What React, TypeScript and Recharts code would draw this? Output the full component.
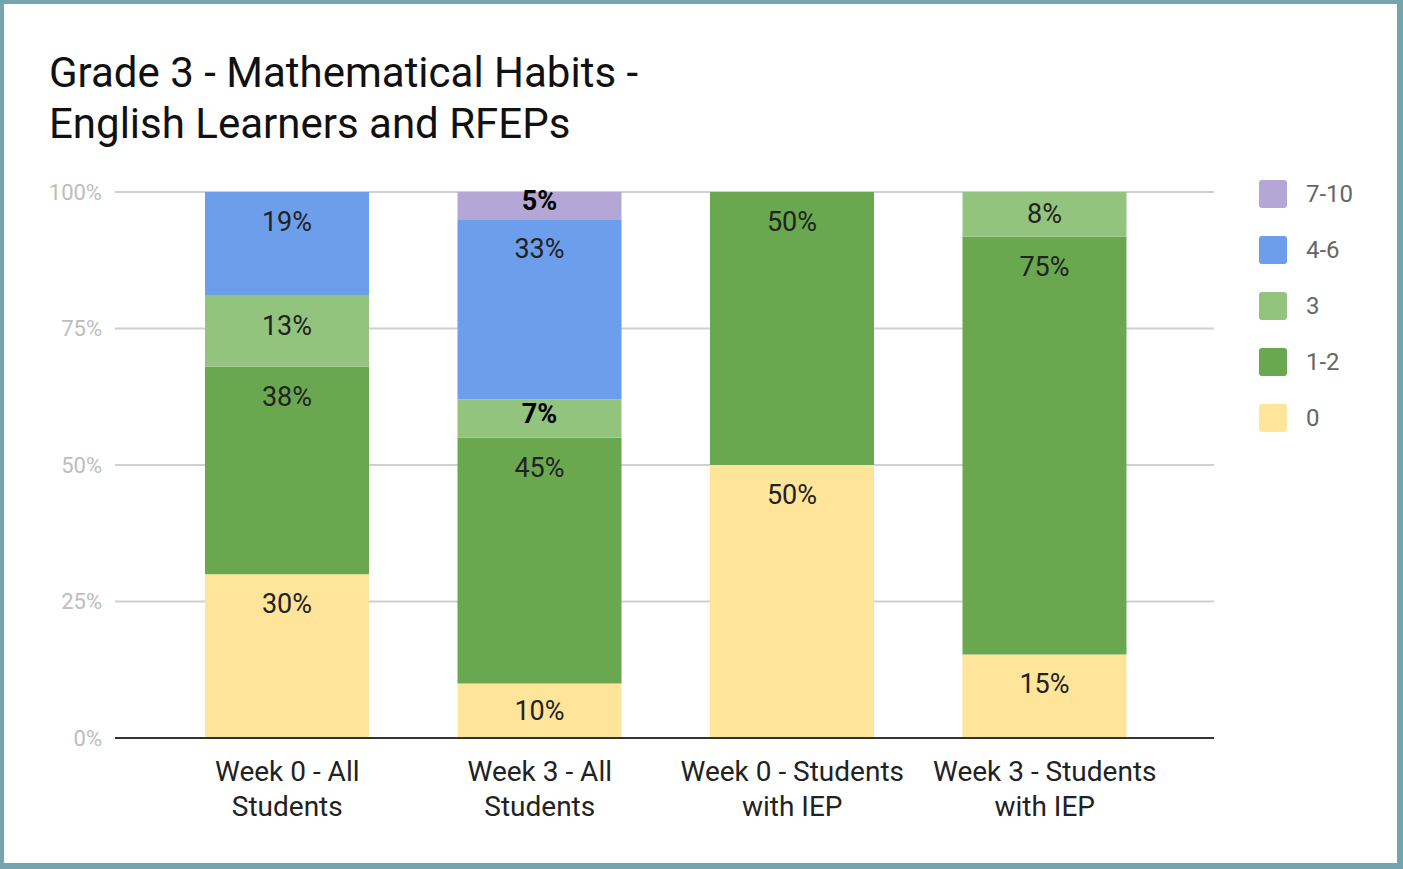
import React from "react";
import { BarChart, Bar, XAxis, YAxis, CartesianGrid, LabelList } from "recharts";

const categories = [
  "Week 0 - All Students",
  "Week 3 - All Students",
  "Week 0 - Students with IEP",
  "Week 3 - Students with IEP",
];
const score0 = [30, 10, 50, 15];
const score12 = [38, 45, 50, 75];
const score3 = [13, 7, null, 8];
const score46 = [19, 33, null, null];
const score710 = [null, 5, null, null];
const seriesNames = ["0", "1-2", "3", "4-6", "7-10"];
const seriesColors = ["#ffe599", "#6aa84f", "#93c47d", "#6d9eeb", "#b4a7d6"];
const yTicks = [0, 0.25, 0.5, 0.75, 1];

const seriesValues = [score0, score12, score3, score46, score710];

const data = categories.map((c, i) => {
  const row: any = { name: c };
  seriesNames.forEach((s, k) => {
    row[s] = seriesValues[k][i];
  });
  return row;
});

const FONT = "Roboto, 'Noto Sans', sans-serif";
const CAT_FONT_SIZE = 28;

let measureCtx: CanvasRenderingContext2D | null = null;
const measure = (s: string) => {
  if (!measureCtx) {
    const c = document.createElement("canvas");
    measureCtx = c.getContext("2d");
  }
  if (!measureCtx) return s.length * CAT_FONT_SIZE * 0.5;
  measureCtx.font = `${CAT_FONT_SIZE}px Roboto`;
  return measureCtx.measureText(s).width;
};

const wrap = (s: string, maxW: number) => {
  const words = s.split(" ");
  const lines: string[] = [];
  let cur = "";
  words.forEach((w) => {
    const t = cur ? cur + " " + w : w;
    if (cur && measure(t) > maxW) {
      lines.push(cur);
      cur = w;
    } else {
      cur = t;
    }
  });
  if (cur) lines.push(cur);
  return lines;
};

const renderLabel = (props: any) => {
  const { x, y, width, height, value } = props;
  if (value == null || value === 0) return null;
  const small = height < 40;
  const cy = small ? y + height / 2 - 5 : y + Math.min(30, height / 2);
  return (
    <text
      x={x + width / 2}
      y={cy}
      textAnchor="middle"
      dominantBaseline="central"
      fontSize={27}
      fontWeight={small ? 700 : 400}
      fill={small ? "#000" : "#222"}
      fontFamily={FONT}
    >
      {value}%
    </text>
  );
};

const CategoryTick = (props: any) => {
  const { x, y, payload } = props;
  const lines = wrap(String(payload.value), 250);
  return (
    <text x={x} y={y} textAnchor="middle" fontSize={CAT_FONT_SIZE} fontFamily={FONT} fill="#222">
      {lines.map((l, i) => (
        <tspan key={i} x={x} y={y + 43 + i * 35}>
          {l}
        </tspan>
      ))}
    </text>
  );
};

export default function App() {
  const legendItems = seriesNames.map((s, k) => ({ name: s, color: seriesColors[k] })).reverse();
  return (
    <div style={{ position: "absolute", left: 0, top: 0, width: 1403, height: 869, background: "#fff", overflow: "hidden" }}>
      <div
        style={{
          position: "absolute",
          left: 49,
          top: 47,
          fontFamily: FONT,
          fontSize: 42,
          lineHeight: "51px",
          color: "#111",
          whiteSpace: "nowrap",
        }}
      >
        Grade 3 - Mathematical Habits -
        <br />
        English Learners and RFEPs
      </div>
      <div style={{ position: "absolute", left: 0, top: 0 }}>
        <BarChart
          width={1403}
          height={869}
          data={data}
          stackOffset="expand"
          margin={{ top: 192, right: 189, bottom: 0, left: 0 }}
        >
          <CartesianGrid vertical={false} stroke="#d0d0d0" strokeWidth={2} />
          <XAxis
            dataKey="name"
            padding={{ left: 46, right: 43 }}
            axisLine={{ stroke: "#333", strokeWidth: 2 }}
            tickLine={false}
            tickSize={0}
            tickMargin={0}
            interval={0}
            height={131}
            tick={<CategoryTick />}
          />
          <YAxis
            type="number"
            domain={[0, 1]}
            ticks={yTicks}
            tickFormatter={(v: number) => `${Math.round(v * 100)}%`}
            axisLine={false}
            tickLine={false}
            tickSize={0}
            tickMargin={13}
            width={115}
            tick={{ fill: "#bdbdbd", fontSize: 22, fontFamily: FONT }}
          />
          {seriesNames.map((s, k) => (
            <Bar key={s} dataKey={s} stackId="a" fill={seriesColors[k]} barSize={164} isAnimationActive={false}>
              <LabelList dataKey={s} content={renderLabel} />
            </Bar>
          ))}
        </BarChart>
      </div>
      <div style={{ position: "absolute", left: 1259, top: 180, fontFamily: FONT }}>
        {legendItems.map((it) => (
          <div key={it.name} style={{ display: "flex", alignItems: "center", height: 28, marginBottom: 28 }}>
            <div style={{ width: 28, height: 28, borderRadius: 3, background: it.color }} />
            <span style={{ marginLeft: 19, fontSize: 24, color: "#666" }}>{it.name}</span>
          </div>
        ))}
      </div>
      <div
        style={{
          position: "absolute",
          left: 0,
          top: 0,
          width: 1403,
          height: 869,
          boxSizing: "border-box",
          borderStyle: "solid",
          borderColor: "#74a5ae",
          borderWidth: "4px 6px 6px 4px",
          pointerEvents: "none",
        }}
      />
    </div>
  );
}
